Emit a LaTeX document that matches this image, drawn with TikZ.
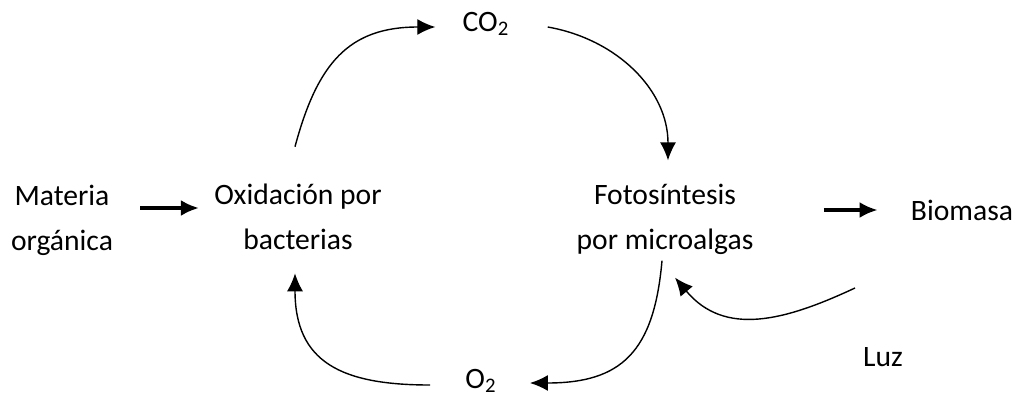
\documentclass[tikz,border=0pt]{standalone}
\usepackage{fontspec}
\setmainfont{Carlito}
\usepackage{tikz}
\usetikzlibrary{arrows.meta, positioning, calc}

\begin{document}
\begin{tikzpicture}[
    x=0.5pt, y=-0.5pt,
    txt/.style={align=center, inner sep=0pt, font=\fontsize{14.8}{22.5}\selectfont},
    flow/.style={-{Latex[length=9pt, width=8pt]}, line width=1.6pt},
    turn/.style={-{Latex[length=9pt, width=8pt]}, line width=0.7pt}
    ]

    \useasboundingbox (0,0) rectangle (1015,396);

    \node[txt] (mat) at (62,220) {Materia\\orgánica};
    \node[txt] (oxi) at (298,217) {Oxidación por\\bacterias};
    \node[txt] (co2) at (486,24) {CO\textsubscript{2}};
    \node[txt] (fot) at (665,219) {Fotosíntesis\\por microalgas};
    \node[txt] (bio) at (962,210) {Biomasa};
    \node[txt] (luz) at (883,357) {Luz};
    \node[txt] (o2) at (481,381) {O\textsubscript{2}};

    \draw[flow, shorten <=13.5pt, shorten >=7.5pt] ([yshift=6pt]mat.east) -- ([yshift=6pt]mat.east -| oxi.west);
    \draw[flow, shorten <=35pt, shorten >=16.5pt] (fot.east |- bio.west) -- (bio.west);

    % ciclo
    \draw[turn] ([xshift=-1.5pt,yshift=18.5pt]oxi.north) to[out=75, in=180, looseness=1.2] ([xshift=-13.5pt,yshift=-1.5pt]co2.west);
    \draw[turn] ([xshift=19pt,yshift=-1.5pt]co2.east) to[out=-10, in=90] ([xshift=1.5pt,yshift=11.5pt]fot.north);
    \draw[turn] ([xshift=-1.5pt,yshift=-3pt]fot.south) to[out=-95, in=0, looseness=1.3] ([xshift=16.5pt,yshift=-1pt]o2.east);
    \draw[turn] ([xshift=-17.5pt,yshift=-2pt]o2.west) to[out=180, in=-90, looseness=1.3] ([xshift=-1.5pt,yshift=-11.5pt]oxi.south);
    \draw[turn] ([xshift=-14pt,yshift=29.5pt]luz.north) to[out=205, in=-50, looseness=1.1] ([xshift=5pt,yshift=-11.5pt]fot.south);
\end{tikzpicture}
\end{document}
